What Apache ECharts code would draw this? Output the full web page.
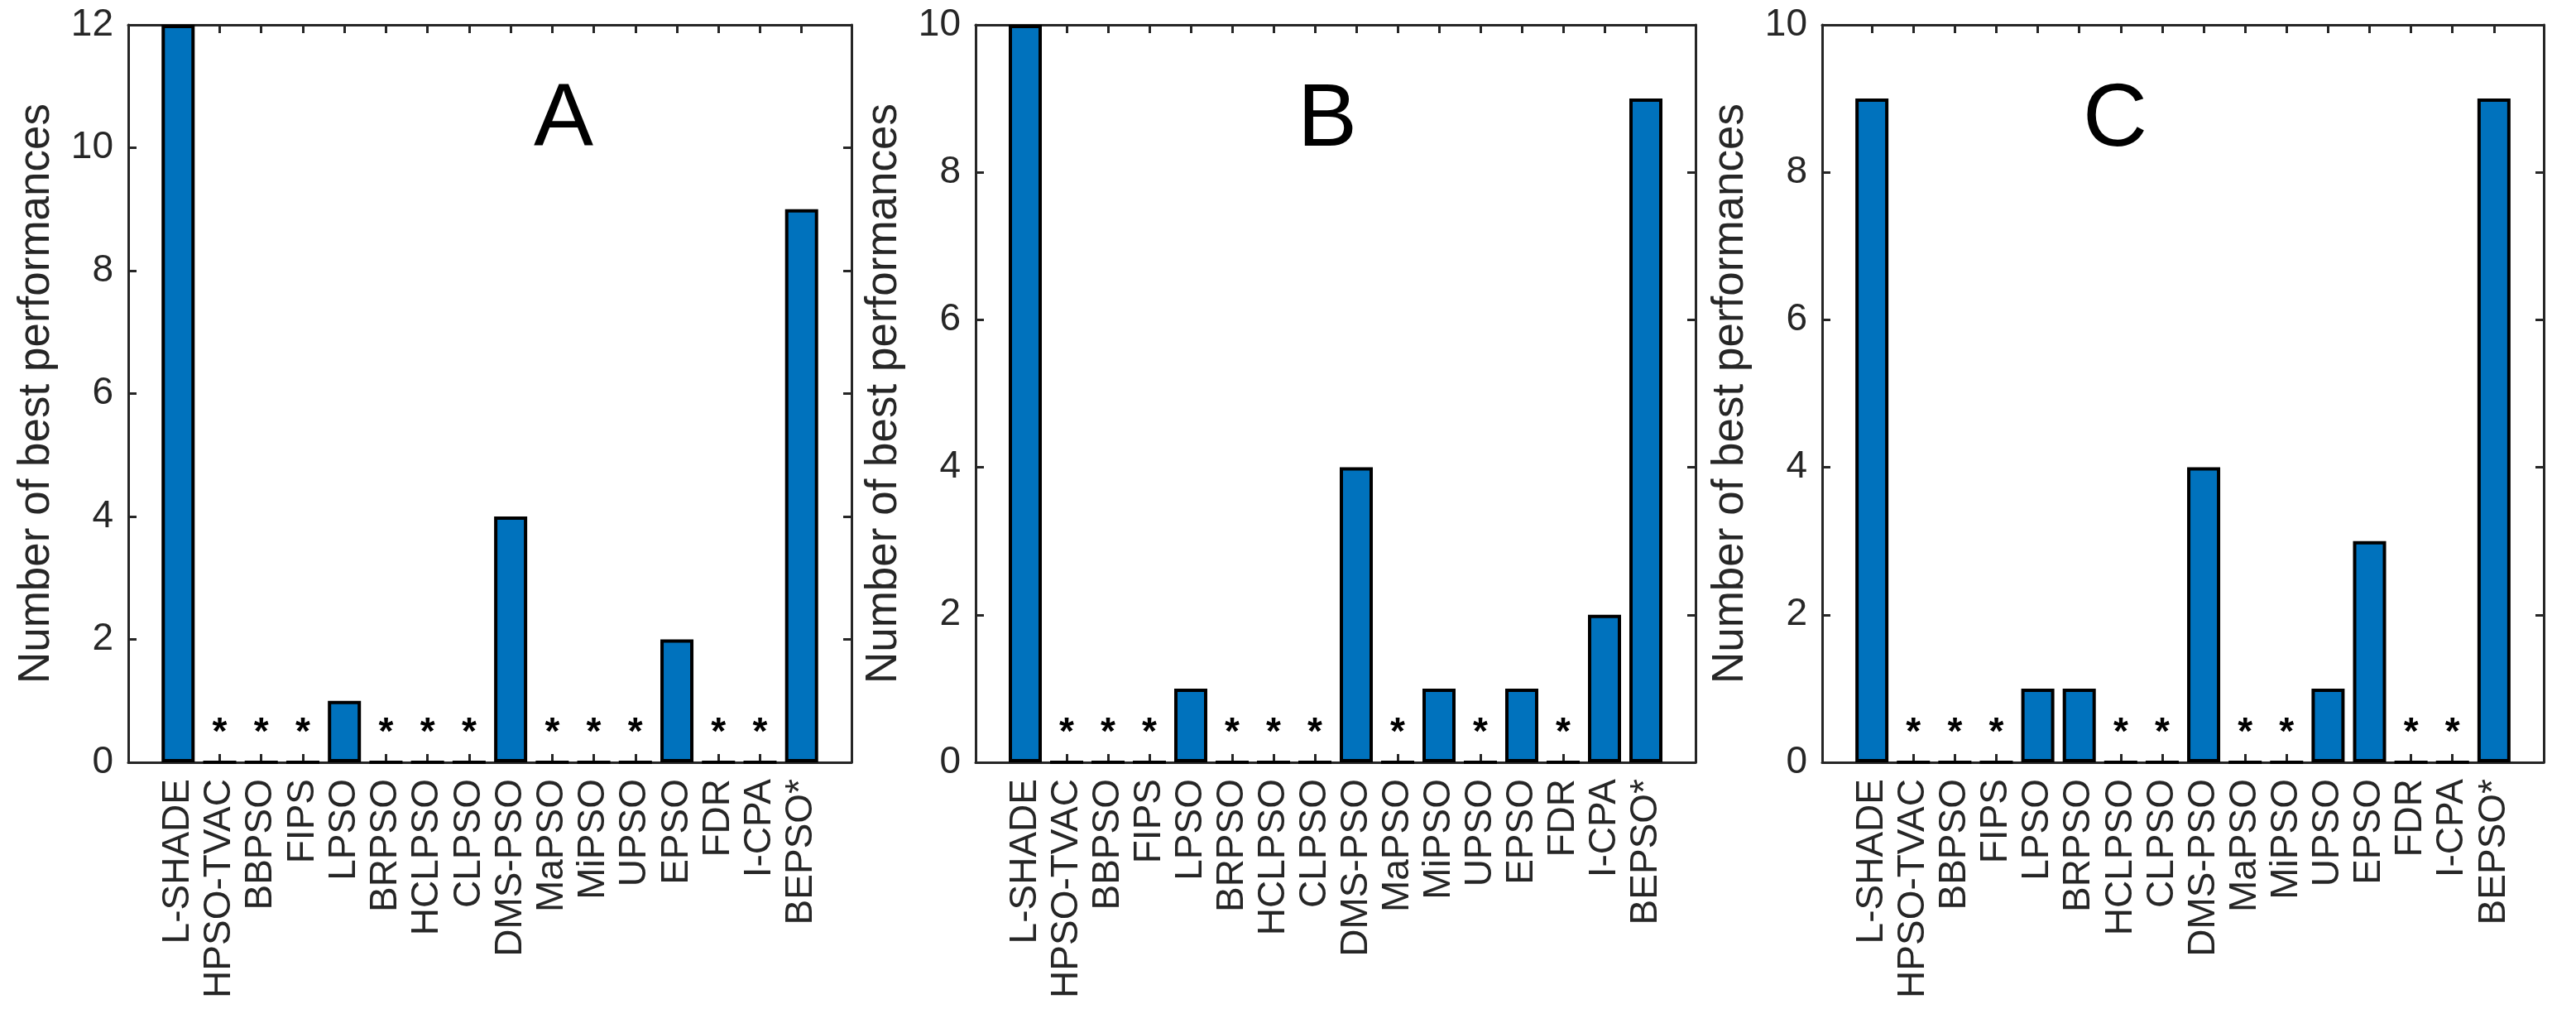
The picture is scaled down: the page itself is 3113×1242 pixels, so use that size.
<!DOCTYPE html>
<html>
<head>
<meta charset="utf-8">
<title>Number of best performances</title>
<script src="https://cdn.jsdelivr.net/npm/echarts@6/dist/echarts.min.js"></script>
<style>
  html, body { margin: 0; padding: 0; background: #fff; }
  #main { width: 3113px; height: 1242px; }
</style>
</head>
<body>
<div id="main"></div>
<script>
// algorithm names on the x axis
var categories = ["L-SHADE", "HPSO-TVAC", "BBPSO", "FIPS", "LPSO", "BRPSO", "HCLPSO", "CLPSO",
  "DMS-PSO", "MaPSO", "MiPSO", "UPSO", "EPSO", "FDR", "I-CPA", "BEPSO*"];

// number of best performances per panel
var valuesA = [12, 0, 0, 0, 1, 0, 0, 0, 4, 0, 0, 0, 2, 0, 0, 9];
var valuesB = [10, 0, 0, 0, 1, 0, 0, 0, 4, 0, 1, 0, 1, 0, 2, 9];
var valuesC = [9, 0, 0, 0, 1, 1, 0, 0, 4, 0, 0, 1, 3, 0, 0, 9];

var panelLetters = ["A", "B", "C"];
var yMaxes = [12, 10, 10];
var yInterval = 2;

var font = "'Liberation Sans', Arial, Helvetica, sans-serif";
var axisColor = "#262626";
var barColor = "#0072BD";

var panels = [
  { data: valuesA, left: 155, width: 874, letterX: 681 },
  { data: valuesB, left: 1179, width: 870, letterX: 1604 },
  { data: valuesC, left: 2202, width: 872, letterX: 2556 }
];
var gridTop = 30, gridHeight = 891;

var tickIdx = categories.map(function (c, i) { return i; });

var grids = [], xAxes = [], yAxes = [], series = [], graphics = [];

panels.forEach(function (p, k) {
  grids.push({ left: p.left, top: gridTop, width: p.width, height: gridHeight, containLabel: false });

  // bottom x axis with names
  xAxes.push({
    type: "value", gridIndex: k, min: -1.2, max: categories.length + 0.2,
    position: "bottom",
    splitLine: { show: false },
    axisLine: { show: true, onZero: false, lineStyle: { color: axisColor, width: 3 } },
    axisTick: { show: true, inside: true, length: 10, customValues: tickIdx, lineStyle: { color: axisColor, width: 3 } },
    axisLabel: {
      show: true, rotate: 90, margin: 20, customValues: tickIdx,
      fontSize: 46, fontFamily: font, color: axisColor,
      formatter: function (v) { return categories[Math.round(v)] || ""; }
    }
  });
  // top x axis, ticks only
  xAxes.push({
    type: "value", gridIndex: k, min: -1.2, max: categories.length + 0.2,
    position: "top",
    splitLine: { show: false },
    axisLine: { show: true, onZero: false, lineStyle: { color: axisColor, width: 3 } },
    axisTick: { show: true, inside: true, length: 10, customValues: tickIdx, lineStyle: { color: axisColor, width: 3 } },
    axisLabel: { show: false }
  });

  // left y axis
  yAxes.push({
    type: "value", gridIndex: k, min: 0, max: yMaxes[k], interval: yInterval,
    position: "left",
    name: "Number of best performances",
    nameLocation: "middle", nameRotate: 90, nameGap: 84,
    nameTextStyle: { fontSize: 53, fontFamily: font, color: axisColor },
    splitLine: { show: false },
    axisLine: { show: true, onZero: false, lineStyle: { color: axisColor, width: 3 } },
    axisTick: { show: true, inside: true, length: 10, lineStyle: { color: axisColor, width: 3 } },
    axisLabel: { margin: 18, fontSize: 46, fontFamily: font, color: axisColor }
  });
  // right y axis, ticks only
  yAxes.push({
    type: "value", gridIndex: k, min: 0, max: yMaxes[k], interval: yInterval,
    position: "right",
    splitLine: { show: false },
    axisLine: { show: true, onZero: false, lineStyle: { color: axisColor, width: 3 } },
    axisTick: { show: true, inside: true, length: 10, lineStyle: { color: axisColor, width: 3 } },
    axisLabel: { show: false }
  });

  series.push({
    type: "bar",
    xAxisIndex: k * 2,
    yAxisIndex: k * 2,
    barWidth: 40,
    data: p.data.map(function (v, i) { return [i, v]; }),
    itemStyle: { color: barColor, borderColor: "#000", borderWidth: 4 },
    // zero bars get a star
    label: {
      show: true, position: "top", distance: 10,
      fontSize: 46, lineHeight: 46, fontWeight: "bold", fontFamily: font, color: "#000",
      formatter: function (prm) { return prm.value[1] === 0 ? "*" : ""; }
    },
    silent: true
  });

  graphics.push({
    type: "text",
    x: p.letterX, y: 146,
    style: {
      text: panelLetters[k], fill: "#000",
      font: "108px " + font,
      textAlign: "center", textVerticalAlign: "middle"
    }
  });
});

var chart = echarts.init(document.getElementById("main"), null, { renderer: "canvas" });
chart.setOption({
  backgroundColor: "#fff",
  animation: false,
  grid: grids,
  xAxis: xAxes,
  yAxis: yAxes,
  series: series,
  graphic: graphics
});
</script>
</body>
</html>
